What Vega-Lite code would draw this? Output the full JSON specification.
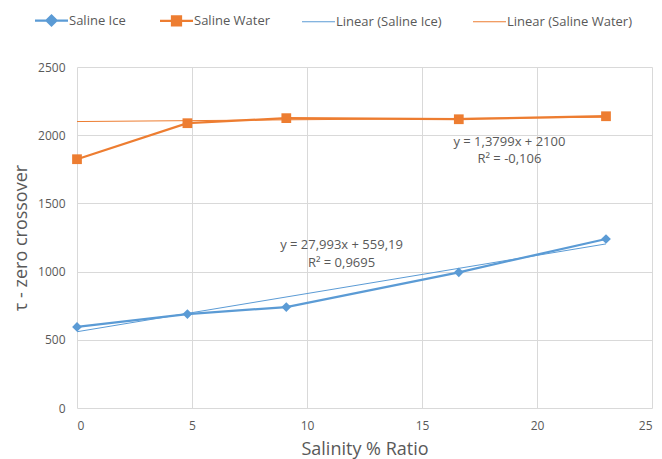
{
  "$schema": "https://vega.github.io/schema/vega-lite/v6.json",
  "autosize": {"type": "none"},
  "width": 575,
  "height": 341,
  "padding": {"left": 77, "top": 67, "right": 10, "bottom": 51},
  "background": "white",
  "config": {
    "view": {"stroke": null},
    "font": "Open Sans",
    "axis": {
      "gridColor": "#D9D9D9",
      "gridWidth": 1,
      "domain": false,
      "ticks": false,
      "labelColor": "#595959",
      "labelFontSize": 12,
      "labelFont": "Open Sans",
      "titleColor": "#595959",
      "titleFontSize": 18,
      "titleFontWeight": "normal",
      "titleFont": "Open Sans"
    }
  },
  "layer": [
    {
      "data": {"values": [
        {"series": "Saline Ice", "x": 0, "y": 594},
        {"series": "Saline Ice", "x": 4.8, "y": 689},
        {"series": "Saline Ice", "x": 9.1, "y": 740},
        {"series": "Saline Ice", "x": 16.6, "y": 995},
        {"series": "Saline Ice", "x": 23.0, "y": 1239},
        {"series": "Saline Water", "x": 0, "y": 1824},
        {"series": "Saline Water", "x": 4.8, "y": 2088},
        {"series": "Saline Water", "x": 9.1, "y": 2125},
        {"series": "Saline Water", "x": 16.6, "y": 2117},
        {"series": "Saline Water", "x": 23.0, "y": 2139}
      ]},
      "layer": [
        {
          "mark": {"type": "line", "strokeWidth": 2.25},
          "encoding": {
            "x": {"field": "x", "type": "quantitative",
              "scale": {"domain": [0, 25], "nice": false},
              "axis": {"values": [0, 5, 10, 15, 20, 25], "title": "Salinity % Ratio", "labelPadding": 12, "titlePadding": 9}},
            "y": {"field": "y", "type": "quantitative",
              "scale": {"domain": [0, 2500], "nice": false},
              "axis": {"values": [0, 500, 1000, 1500, 2000, 2500], "format": "d", "title": "τ - zero crossover", "labelPadding": 12, "titlePadding": 7}},
            "color": {"field": "series", "type": "nominal",
              "scale": {"domain": ["Saline Ice", "Saline Water", "Linear (Saline Ice)", "Linear (Saline Water)"],
                        "range": ["#5B9BD5", "#ED7D31", "#5B9BD5", "#ED7D31"]},
              "legend": {
                "orient": "none",
                "direction": "horizontal",
                "legendX": -42,
                "legendY": -53,
                "title": null,
                "padding": 0,
                "symbolSize": 100,
                "symbolStrokeWidth": 2,
                "symbolOffset": 10,
                "columnPadding": 29,
                "labelOffset": 11,
                "labelFontSize": 13,
                "labelColor": "#595959",
                "labelFont": "Open Sans",
                "encode": {
                  "symbols": {"update": {
                    "size": {"value": 100},
                    "shape": {"signal": "datum.value == 'Saline Ice' ? 'M-3.3,0H3.3M0,-1L1,0L0,1L-1,0Z' : (datum.value == 'Saline Water' ? 'M-3.3,0H3.3M-0.9,-0.9H0.9V0.9H-0.9Z' : 'M-3.3,0H3.3')"},
                    "strokeWidth": {"signal": "datum.value == 'Saline Ice' || datum.value == 'Saline Water' ? 2.25 : 1"},
                    "fill": {"signal": "scale('color', datum.value)"},
                    "stroke": {"signal": "scale('color', datum.value)"},
                    "opacity": {"value": 1}
                  }}
                }
              }
            }
          }
        },
        {
          "mark": {"type": "point", "filled": true, "opacity": 1, "size": 95},
          "encoding": {
            "x": {"field": "x", "type": "quantitative"},
            "y": {"field": "y", "type": "quantitative"},
            "color": {"field": "series", "type": "nominal", "legend": null},
            "shape": {"field": "series", "type": "nominal",
              "scale": {"domain": ["Saline Ice", "Saline Water"], "range": ["diamond", "square"]},
              "legend": null}
          }
        }
      ]
    },
    {
      "data": {"values": [
        {"series": "Linear (Saline Ice)", "x": 0, "y": 559.19},
        {"series": "Linear (Saline Ice)", "x": 23.0, "y": 1203.0},
        {"series": "Linear (Saline Water)", "x": 0, "y": 2100},
        {"series": "Linear (Saline Water)", "x": 23.0, "y": 2131.7}
      ]},
      "mark": {"type": "line", "strokeWidth": 1},
      "encoding": {
        "x": {"field": "x", "type": "quantitative"},
        "y": {"field": "y", "type": "quantitative"},
        "color": {"field": "series", "type": "nominal"}
      }
    },
    {
      "data": {"values": [
        {"label": "y = 27,993x + 559,19", "x": 11.5, "y": 1195},
        {"label": "R² = 0,9695", "x": 11.5, "y": 1062},
        {"label": "y = 1,3799x + 2100", "x": 18.8, "y": 1950},
        {"label": "R² = -0,106", "x": 18.8, "y": 1826}
      ]},
      "mark": {"type": "text", "fontSize": 13, "font": "Open Sans", "color": "#595959", "align": "center", "baseline": "middle"},
      "encoding": {
        "x": {"field": "x", "type": "quantitative"},
        "y": {"field": "y", "type": "quantitative"},
        "text": {"field": "label", "type": "nominal"}
      }
    }
  ]
}
